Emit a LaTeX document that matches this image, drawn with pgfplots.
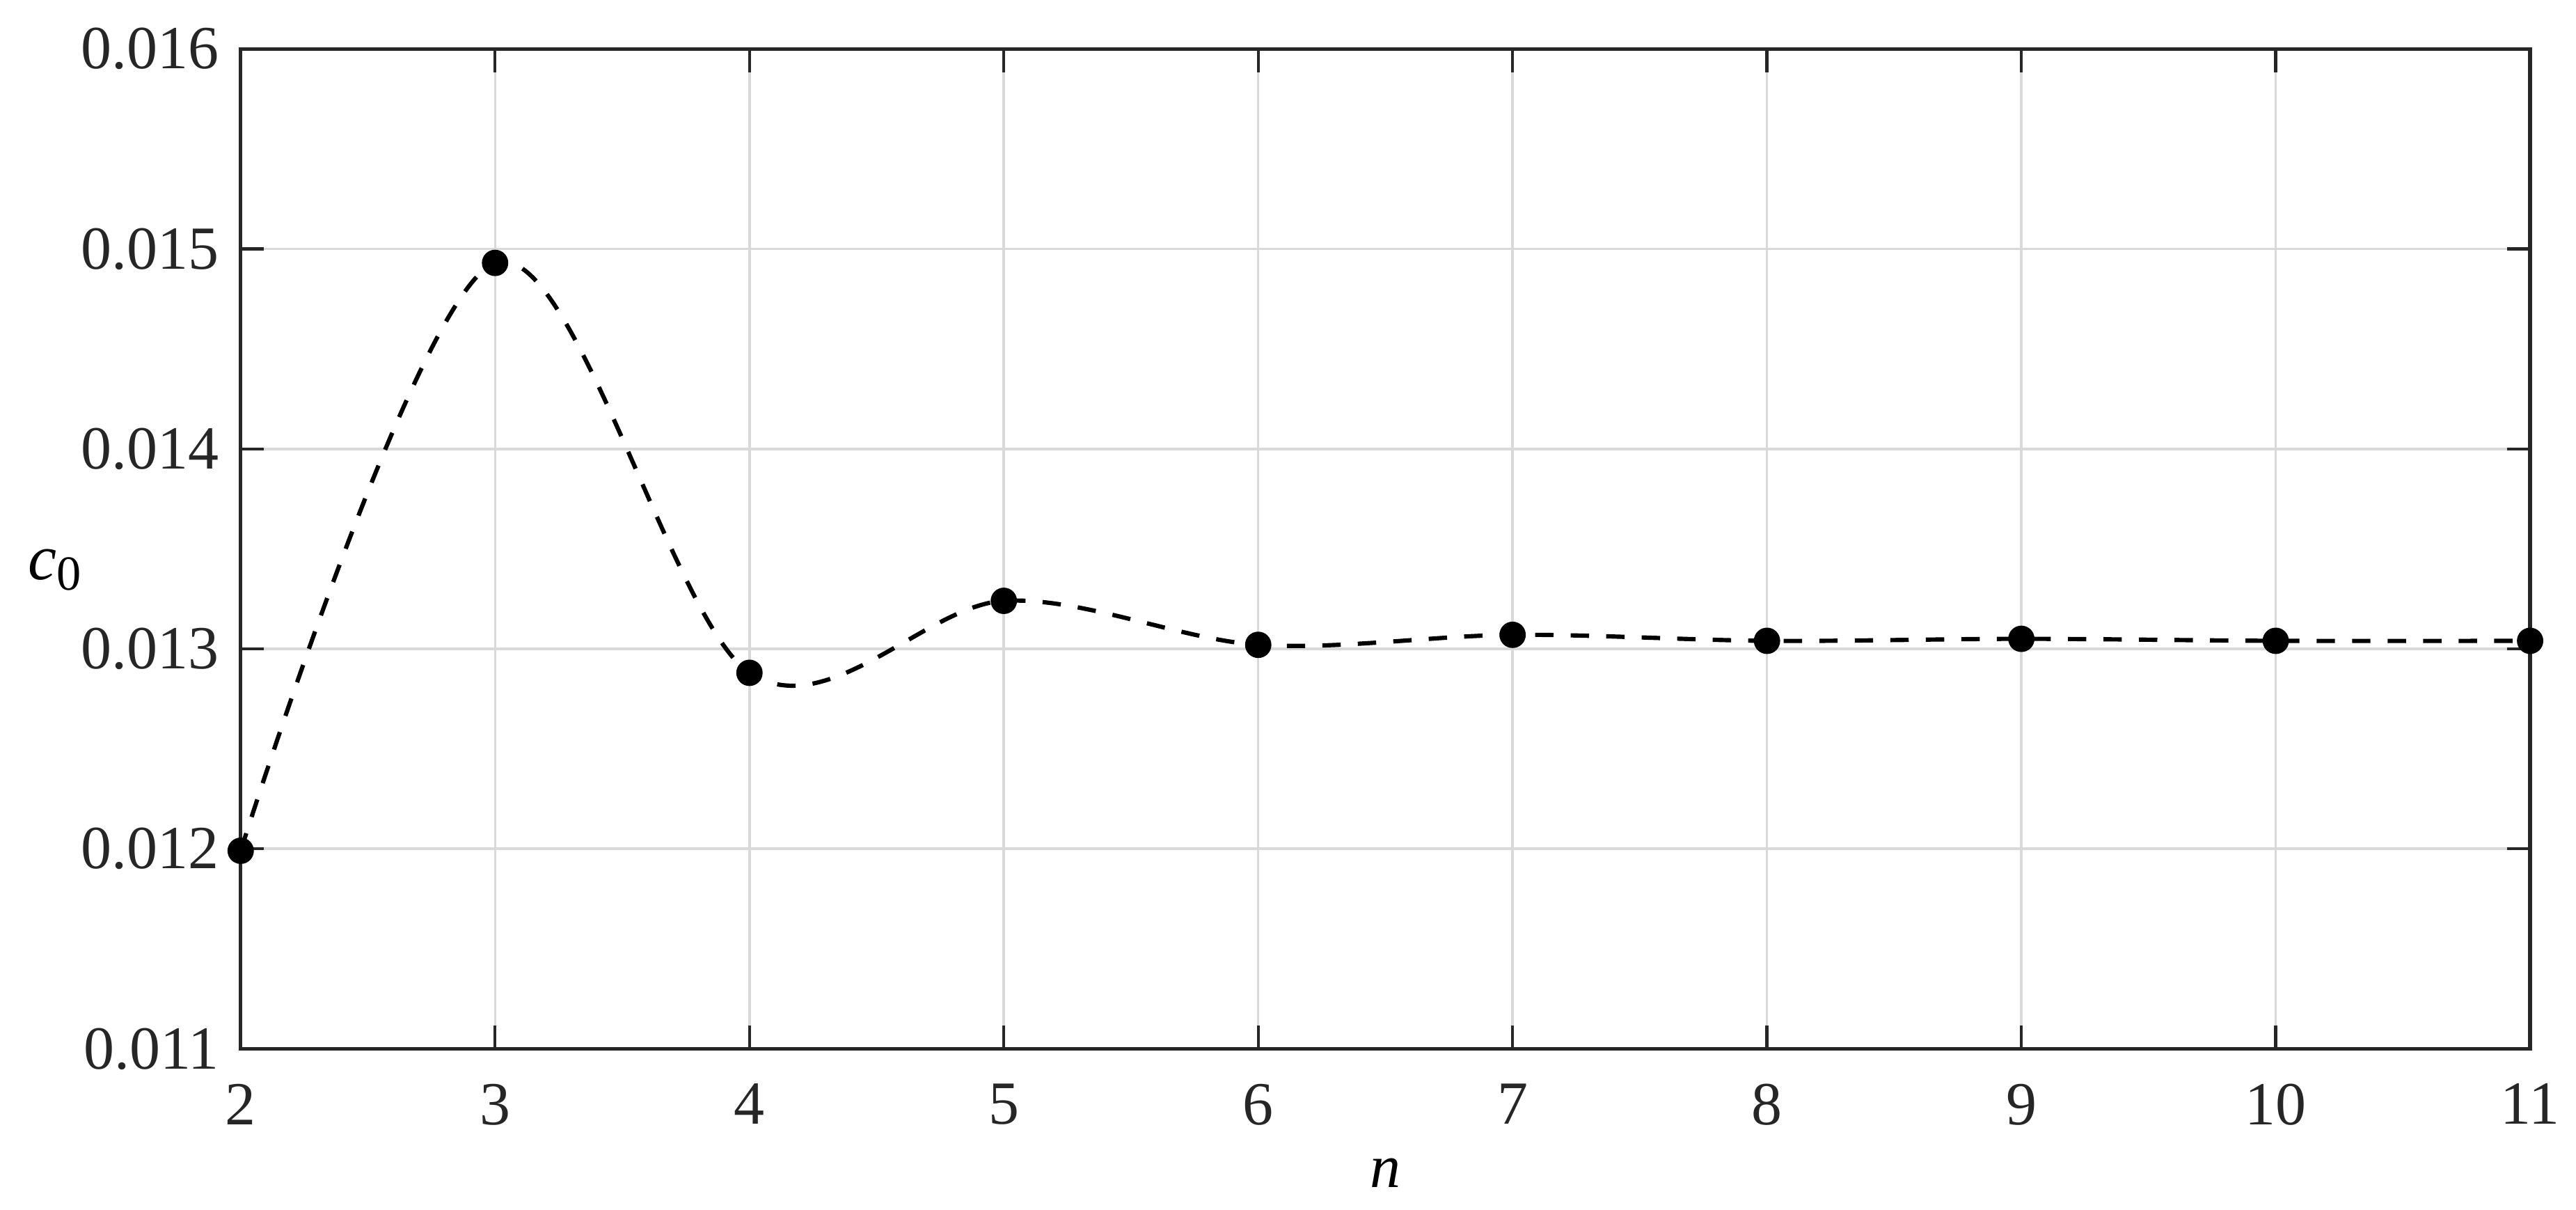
\documentclass[border=0pt]{standalone}
\usepackage{fontspec}
\setmainfont{Liberation Serif}
\usepackage{pgfplots}
\pgfplotsset{compat=1.18}
\begin{document}
\begin{tikzpicture}
\begin{axis}[
  name=ax,
  scale only axis,
  width=373.8pt, height=163.2pt,
  xmin=2, xmax=11, ymin=0.011, ymax=0.016,
  xtick={2,3,4,5,6,7,8,9,10,11},
  ytick={0.011,0.012,0.013,0.014,0.015,0.016},
  scaled y ticks=false,
  yticklabel style={/pgf/number format/.cd, fixed, fixed zerofill, precision=3},
  /pgf/number format/assume math mode=true,
  tick align=inside,
  major tick length=3.8pt,
  tick style={black!85, line width=0.5pt},
  axis line style={black!85, line width=0.6pt},
  every tick label/.append style={font=\fontsize{10}{12}\selectfont, text=black!85},
  xticklabel style={yshift=-2.2pt},
  grid=major,
  major grid style={gray!30, line width=0.4pt},
  xlabel={\textit{n}},
  xlabel style={at={(axis description cs:0.5,0)}, anchor=center, yshift=-20.3pt, font=\fontsize{10}{12}\selectfont},
  ylabel={\textit{c}\textsubscript{\fontsize{8}{9}\selectfont 0}},
  ylabel style={rotate=-90, at={(axis description cs:-0.0805,0.479)}, anchor=center, font=\fontsize{10.5}{12}\selectfont},
  clip=false,
]
\addplot[black, line width=0.7pt, dash pattern=on 3pt off 2.8pt, smooth, tension=0.55,
  mark=*, mark size=1.8pt, mark options={solid, fill=black}]
  coordinates {
  (2,0.01199) (3,0.01493) (4,0.01288) (5,0.01324) (6,0.01302)
  (7,0.01307) (8,0.01304) (9,0.01305) (10,0.01304) (11,0.01304)
  };
\end{axis}
\pgfresetboundingbox
\path ([xshift=-39.3pt,yshift=-26.3pt]ax.south west) rectangle ([xshift=7.5pt,yshift=8pt]ax.north east);
\end{tikzpicture}
\end{document}
